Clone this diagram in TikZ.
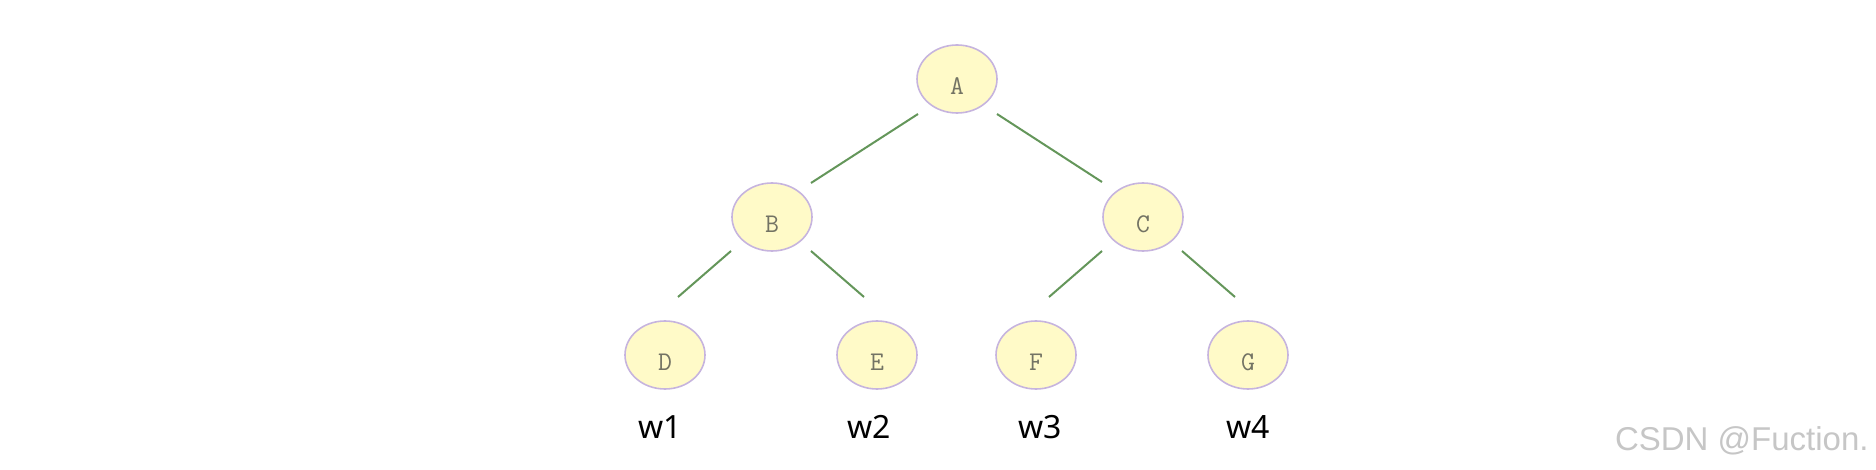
\documentclass[tikz,border=0pt]{standalone}
\usepackage{fontspec}
\setmainfont{Liberation Serif}
\newfontfamily\wfont{Noto Sans}
\newfontfamily\markfont{Liberation Sans}
\usetikzlibrary{calc}
\usetikzlibrary{shapes.geometric}
\definecolor{nodefill}{RGB}{255,250,200}
\definecolor{nodeline}{RGB}{198,180,222}
\definecolor{keygray}{RGB}{115,115,100}
\definecolor{edgegreen}{RGB}{100,150,90}
\tikzset{
    treenode/.style={ellipse,draw=nodeline,fill=nodefill,line width=0.8pt,
        minimum width=40pt,minimum height=34pt,inner sep=0pt,
        text height=15.5pt,text depth=0pt,text=keygray,
        font=\ttfamily\fontsize{13.5}{13.5}\selectfont},
    branch/.style={edgegreen,line width=1pt},
    weight/.style={font=\wfont\fontsize{16}{16}\selectfont}
}
\begin{document}
\begin{tikzpicture}[x=0.5pt,y=-0.5pt]
                        \useasboundingbox (0,0) rectangle (1876,470);
                        % tree nodes
                        \node[treenode] (A) at (957,79) {A};
                        \node[treenode] (B) at (772,217) {B};
                        \node[treenode] (C) at (1143,217) {C};
                        \node[treenode] (D) at (665,355) {D};
                        \node[treenode] (E) at (877,355) {E};
                        \node[treenode] (F) at (1036,355) {F};
                        \node[treenode] (G) at (1248,355) {G};
                        % branches
                        \draw[branch] ($(A)+(-39,35)$) -- ($(B)+(39,-34)$);
                        \draw[branch] ($(A)+(40,35)$) -- ($(C)+(-41,-35)$);
                        \draw[branch] ($(B)+(-41,34)$) -- ($(D)+(13,-58)$);
                        \draw[branch] ($(B)+(39,34)$) -- ($(E)+(-13,-58)$);
                        \draw[branch] ($(C)+(-41,34)$) -- ($(F)+(13,-58)$);
                        \draw[branch] ($(C)+(39,34)$) -- ($(G)+(-13,-58)$);
                        % weights
                        \node[weight] (w1) at (660,427) {w1};
                        \node[weight] (w2) at (869,427) {w2};
                        \node[weight] (w3) at (1040,427) {w3};
                        \node[weight] (w4) at (1248,427) {w4};
                        \node[anchor=base east,inner sep=0pt,text=gray!45,
                            font=\markfont\fontsize{16.5}{16.5}\selectfont] (mark) at (1869,451) {CSDN @Fuction.};
                    \end{tikzpicture}
\end{document}
